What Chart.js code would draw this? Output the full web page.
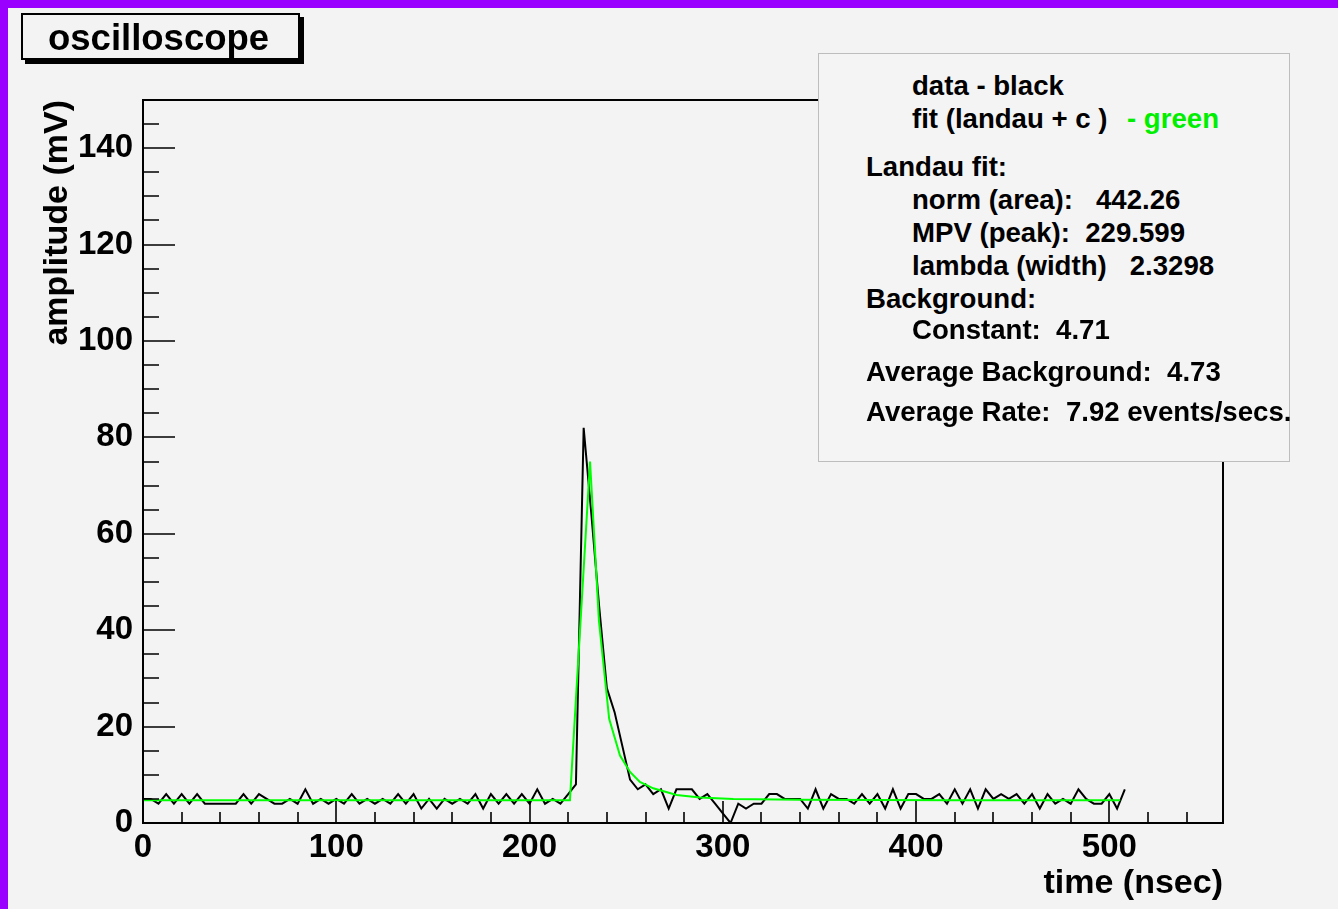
<!DOCTYPE html>
<html>
<head>
<meta charset="utf-8">
<script src="https://cdn.jsdelivr.net/npm/chart.js@4/dist/chart.umd.min.js"></script>
<style>
  html, body { margin: 0; padding: 0; background: #f3f3f3; overflow: hidden; }
  #wrap { position: relative; width: 1338px; height: 909px; }
  canvas { position: absolute; left: 0; top: 0; }
  .t { position: absolute; font-family: "Liberation Sans", Arial, Helvetica, sans-serif; font-weight: bold; white-space: pre; color: #000; line-height: 1; }
  .s { font-size: 27.6px; }
  #stats { position: absolute; left: 818px; top: 53px; width: 470px; height: 407px; background: #f4f4f4; border: 1px solid #bdbdbd; }
  #titlebox { position: absolute; left: 21px; top: 13px; width: 275px; height: 43px; background: #f3f3f3; border: 2px solid #000; box-shadow: 4px 4px 0 #000; }
</style>
</head>
<body>
<div id="wrap">
  <canvas id="c" width="1338" height="909"></canvas>
  <div id="titlebox"></div>
  <div class="t" style="left:48px; top:20px; font-size:36.5px;">oscilloscope</div>
  <div id="stats"></div>
  <div class="t s" style="left:912px; top:72px;">data - black</div>
  <div class="t s" style="left:912px; top:105px;">fit (landau + c )</div>
  <div class="t s" style="left:1127px; top:105px; color:#00ee00;">- green</div>
  <div class="t s" style="left:866px; top:153px;">Landau fit:</div>
  <div class="t s" style="left:912px; top:186px;">norm (area):   442.26</div>
  <div class="t s" style="left:912px; top:219px;">MPV (peak):  229.599</div>
  <div class="t s" style="left:912px; top:252px;">lambda (width)   2.3298</div>
  <div class="t s" style="left:866px; top:285px;">Background:</div>
  <div class="t s" style="left:912px; top:316px;">Constant:  4.71</div>
  <div class="t s" style="left:866px; top:358px;">Average Background:  4.73</div>
  <div class="t s" style="left:866px; top:398px;">Average Rate:  7.92 events/secs.</div>
</div>
<script>
// ---- data ----
const timeNs = [0,4,8,12,16,20,24,28,32,36,40,44,48,52,56,60,
  64,68,72,76,80,84,88,92,96,100,104,108,112,116,120,124,
  128,132,136,140,144,148,152,156,160,164,168,172,176,180,184,188,
  192,196,200,204,208,212,216,220,224,228,232,236,240,244,248,252,
  256,260,264,268,272,276,280,284,288,292,296,300,304,308,312,316,
  320,324,328,332,336,340,344,348,352,356,360,364,368,372,376,380,
  384,388,392,396,400,404,408,412,416,420,424,428,432,436,440,444,
  448,452,456,460,464,468,472,476,480,484,488,492,496,500,504,508];
const amplitudeMv = [5,5,4,6,4,6,4,6,4,4,4,4,4,6,4,6,
  5,4,4,5,4,7,4,5,4,5,4,6,4,5,4,5,
  4,6,4,6,3,5,3,5,4,5,4,6,3,6,4,6,
  4,6,4,7,4,5,4,6,8,82,64,45,28,23,16,9,
  7,8,6,7,3,7,7,7,5,6,4,2,0,4,3,4,
  4,6,6,5,5,5,3,7,3,6,5,5,4,6,4,6,
  3,7,3,6,6,5,5,6,4,7,4,7,3,7,5,6,
  5,6,4,6,3,6,4,5,4,7,5,4,4,6,3,7];
const fitTimeNs = [0, 220.9, 231.3, 235.9, 241.2, 246.8, 252.0, 257.1, 264.0, 276.1, 288.2, 305.4, 340.0, 420.0, 505.6];
const fitAmplitudeMv = [4.71, 4.71, 75.0, 42.0, 21.6, 14.0, 10.6, 8.5, 7.2, 5.8, 5.3, 5.0, 4.8, 4.73, 4.72];
const xTickLabels = [0, 100, 200, 300, 400, 500];
const yTickLabels = [0, 20, 40, 60, 80, 100, 120, 140];
const xRange = [0, 558.8];
const yRange = [0, 150];
const xMinorStep = 20;
const yMinorStep = 5;

const dataPoints = timeNs.map((t, i) => ({x: t, y: amplitudeMv[i]}));
const fitPoints = fitTimeNs.map((t, i) => ({x: t, y: fitAmplitudeMv[i]}));

const FONT = "'Liberation Sans', Arial, Helvetica, sans-serif";

const rootFrame = {
  id: 'rootFrame',
  beforeDraw(chart) {
    const ctx = chart.ctx;
    ctx.save();
    ctx.fillStyle = '#9900ff';
    ctx.fillRect(0, 0, chart.width, chart.height);
    ctx.fillStyle = '#f3f3f3';
    ctx.fillRect(8, 8, chart.width - 8, chart.height - 8);
    ctx.restore();
  },
  afterDatasetsDraw(chart) {
    const ctx = chart.ctx;
    const a = chart.chartArea;
    const xs = chart.scales.x, ys = chart.scales.y;
    ctx.save();
    ctx.strokeStyle = '#000';
    ctx.lineWidth = 2;
    ctx.strokeRect(a.left, a.top, a.right - a.left, a.bottom - a.top);
    ctx.beginPath();
    for (let v = xRange[0]; v <= xRange[1] + 1e-6; v += xMinorStep) {
      const px = Math.round(xs.getPixelForValue(v));
      const major = xTickLabels.includes(v);
      const len = major ? 22 : 11;
      ctx.moveTo(px, a.bottom);
      ctx.lineTo(px, a.bottom - len);
    }
    for (let v = yRange[0]; v <= yRange[1] + 1e-6; v += yMinorStep) {
      const py = Math.round(ys.getPixelForValue(v));
      const major = yTickLabels.includes(v);
      const len = major ? 32 : 16;
      ctx.moveTo(a.left, py);
      ctx.lineTo(a.left + len, py);
    }
    ctx.lineWidth = 1.6;
    ctx.stroke();
    ctx.restore();
  }
};

new Chart(document.getElementById('c'), {
  type: 'scatter',
  data: {
    datasets: [
      { label: 'fit', data: fitPoints, showLine: true, borderColor: '#00ff00', borderWidth: 2, pointRadius: 0, tension: 0, order: 0 },
      { label: 'data', data: dataPoints, showLine: true, borderColor: '#000000', borderWidth: 2, pointRadius: 0, tension: 0, order: 1 }
    ]
  },
  options: {
    responsive: false,
    devicePixelRatio: 1,
    animation: false,
    events: [],
    layout: { padding: { left: 0, top: 100, right: 115, bottom: 0 } },
    plugins: { legend: { display: false }, tooltip: { enabled: false }, title: { display: false } },
    scales: {
      x: {
        type: 'linear', min: xRange[0], max: xRange[1],
        grid: { display: false, drawTicks: false }, border: { display: false },
        afterBuildTicks: s => { s.ticks = xTickLabels.map(v => ({ value: v })); },
        afterFit: s => { s.height = 86; },
        ticks: { color: '#000', padding: 5, maxRotation: 0, autoSkip: false, font: { family: FONT, size: 33, weight: 'bold' } },
        title: { display: true, text: 'time (nsec)', align: 'end', color: '#000', padding: { top: 0, bottom: 5 }, font: { family: FONT, size: 34, weight: 'bold' } }
      },
      y: {
        type: 'linear', min: yRange[0], max: yRange[1],
        grid: { display: false, drawTicks: false }, border: { display: false },
        afterBuildTicks: s => { s.ticks = yTickLabels.map(v => ({ value: v })); },
        afterFit: s => { s.width = 143; },
        ticks: { color: '#000', padding: 10, autoSkip: false, font: { family: FONT, size: 33, weight: 'bold' } },
        title: { display: true, text: 'amplitude (mV)', align: 'end', color: '#000', padding: { top: 37, bottom: 0 }, font: { family: FONT, size: 34, weight: 'bold' } }
      }
    }
  },
  plugins: [rootFrame]
});
</script>
</body>
</html>
